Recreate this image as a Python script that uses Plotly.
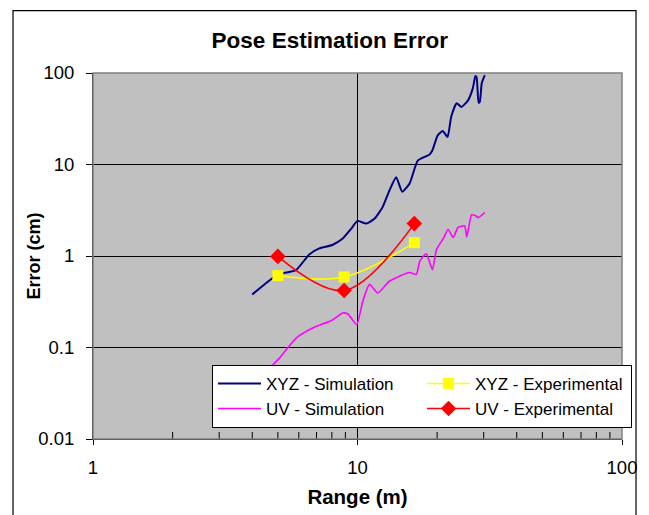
import plotly.graph_objects as go

# ---------------- data ----------------
xyz_sim_x = [4.00, 5.01, 5.85, 6.57, 7.17, 8.03, 8.77, 9.46, 10.0, 10.78, 11.59, 12.43, 13.2, 14.0,
             14.76, 15.73, 16.92, 18.74, 19.2, 20.1, 21.0, 21.9, 22.6, 23.7, 24.7, 26.1, 27.3,
             27.9, 28.2, 28.7, 29.0, 29.5, 30.3]
xyz_sim_y = [0.38, 0.63, 0.70, 1.04, 1.21, 1.32, 1.54, 1.98, 2.42, 2.26, 2.55, 3.40, 5.18, 7.25,
             5.05, 6.18, 11.07, 12.9, 14.3, 20.8, 23.2, 20.0, 33.1, 46.8, 42.6, 49.6, 68.4,
             92.6, 90.0, 47.2, 48.4, 77.7, 95.0]

uv_sim_x = [4.0, 4.44, 5.06, 5.85, 6.77, 8.05, 8.79, 9.2, 9.93, 10.47, 11.1, 11.93, 13.2, 15.7,
            16.7, 17.2, 18.2, 19.2, 19.9, 21.2, 22.0, 23.0, 24.0, 25.4, 25.9, 27.0, 28.0, 28.6, 30.3]
uv_sim_y = [0.037, 0.052, 0.076, 0.126, 0.163, 0.20, 0.238, 0.232, 0.178, 0.32, 0.49, 0.395, 0.53,
            0.66, 0.63, 0.88, 1.06, 0.71, 1.18, 1.59, 1.96, 1.59, 2.05, 2.14, 1.62, 2.82, 2.75,
            2.63, 2.99]

xyz_exp_x = [5.0, 8.9, 16.4]
xyz_exp_y = [0.61, 0.59, 1.40]

uv_exp_x = [5.0, 8.9, 16.4]
uv_exp_y = [0.99, 0.42, 2.26]

x_minor_vals = [2, 3, 4, 5, 6, 7, 8, 9, 20, 30, 40, 50, 60, 70, 80, 90]
y_min = 0.01
y_max = 100
y_tickvals = [0.01, 0.1, 1, 10, 100]
y_ticktext = ["0.01", "0.1", "1", "10", "100"]

FONT = "Liberation Sans, Arial, sans-serif"

fig = go.Figure()
# minor tick marks of the x axis (inside), clipped by the plot area
fig.add_trace(go.Scatter(x=x_minor_vals, y=[y_min] * len(x_minor_vals), mode="markers",
                         marker=dict(symbol="line-ns", size=10, color="black",
                                     line=dict(width=1, color="black")),
                         showlegend=False, hoverinfo="skip", cliponaxis=True))
fig.add_trace(go.Scatter(x=xyz_sim_x, y=xyz_sim_y, mode="lines", name="XYZ - Simulation",
                         line=dict(color="#000080", width=2, shape="spline", smoothing=0.5),
                         legendrank=1))
fig.add_trace(go.Scatter(x=uv_sim_x, y=uv_sim_y, mode="lines", name="UV - Simulation",
                         line=dict(color="#FF00FF", width=1.6, shape="spline", smoothing=0.5),
                         legendrank=3))
fig.add_trace(go.Scatter(x=xyz_exp_x, y=xyz_exp_y, mode="lines+markers", name="XYZ - Experimental",
                         line=dict(color="#FFFF00", width=1.6, shape="spline"),
                         marker=dict(symbol="square", size=11, color="#FFFF00"),
                         legendrank=2))
fig.add_trace(go.Scatter(x=uv_exp_x, y=uv_exp_y, mode="lines+markers", name="UV - Experimental",
                         line=dict(color="#FF0000", width=1.6, shape="spline"),
                         marker=dict(symbol="diamond", size=12, color="#FF0000"),
                         legendrank=4))

fig.update_layout(
    width=641, height=507,
    margin=dict(l=85, r=27, t=65, b=76, autoexpand=False),
    paper_bgcolor="white",
    plot_bgcolor="#C0C0C0",
    font=dict(family=FONT, color="black"),
    title=dict(text="<b>Pose Estimation Error</b>", x=0.502, xanchor="center",
               y=0.937, yanchor="middle", yref="container",
               font=dict(size=22.5, family=FONT, color="black")),
    showlegend=True,
    legend=dict(orientation="h", x=0.225, xanchor="left", y=0.2025, yanchor="top",
                bgcolor="white", bordercolor="black", borderwidth=1,
                font=dict(size=17, family=FONT), entrywidth=151, itemwidth=43,
                tracegroupgap=0),
    shapes=[
        dict(type="rect", xref="paper", yref="paper", x0=0, x1=1, y0=0, y1=1,
             line=dict(color="#808080", width=1.5), fillcolor="rgba(0,0,0,0)", layer="above"),
        dict(type="rect", xref="paper", yref="paper", x0=-0.1512, x1=1.0265, y0=-0.3, y1=1.1705,
             line=dict(color="black", width=1.2), fillcolor="rgba(0,0,0,0)", layer="above"),
    ],
    annotations=[
        dict(text="<b>Error (cm)</b>", xref="paper", yref="paper", x=-0.1106, y=0.5,
             xanchor="center", yanchor="middle", textangle=-90, showarrow=False,
             font=dict(size=18, family=FONT, color="black")),
    ],
)

fig.update_xaxes(
    type="log", range=[0, 2], tickmode="linear", tick0=0, dtick=1,
    showgrid=True, gridcolor="black", gridwidth=1, zeroline=False,
    ticks="outside", ticklen=5, tickcolor="black",
    showline=True, linecolor="black", linewidth=1,
    ticklabelstandoff=7,
    tickfont=dict(size=18.5, family=FONT),
    title=dict(text="<b>Range (m)</b>", font=dict(size=20.5, family=FONT), standoff=12),
)
fig.update_yaxes(
    type="log", range=[-2, 2], tickmode="array", tickvals=y_tickvals, ticktext=y_ticktext,
    showgrid=True, gridcolor="black", gridwidth=1, zeroline=False,
    ticks="outside", ticklen=6, tickcolor="black",
    showline=True, linecolor="black", linewidth=1,
    ticklabelstandoff=8,
    tickfont=dict(size=18.5, family=FONT),
)

fig.write_html("out.html")
